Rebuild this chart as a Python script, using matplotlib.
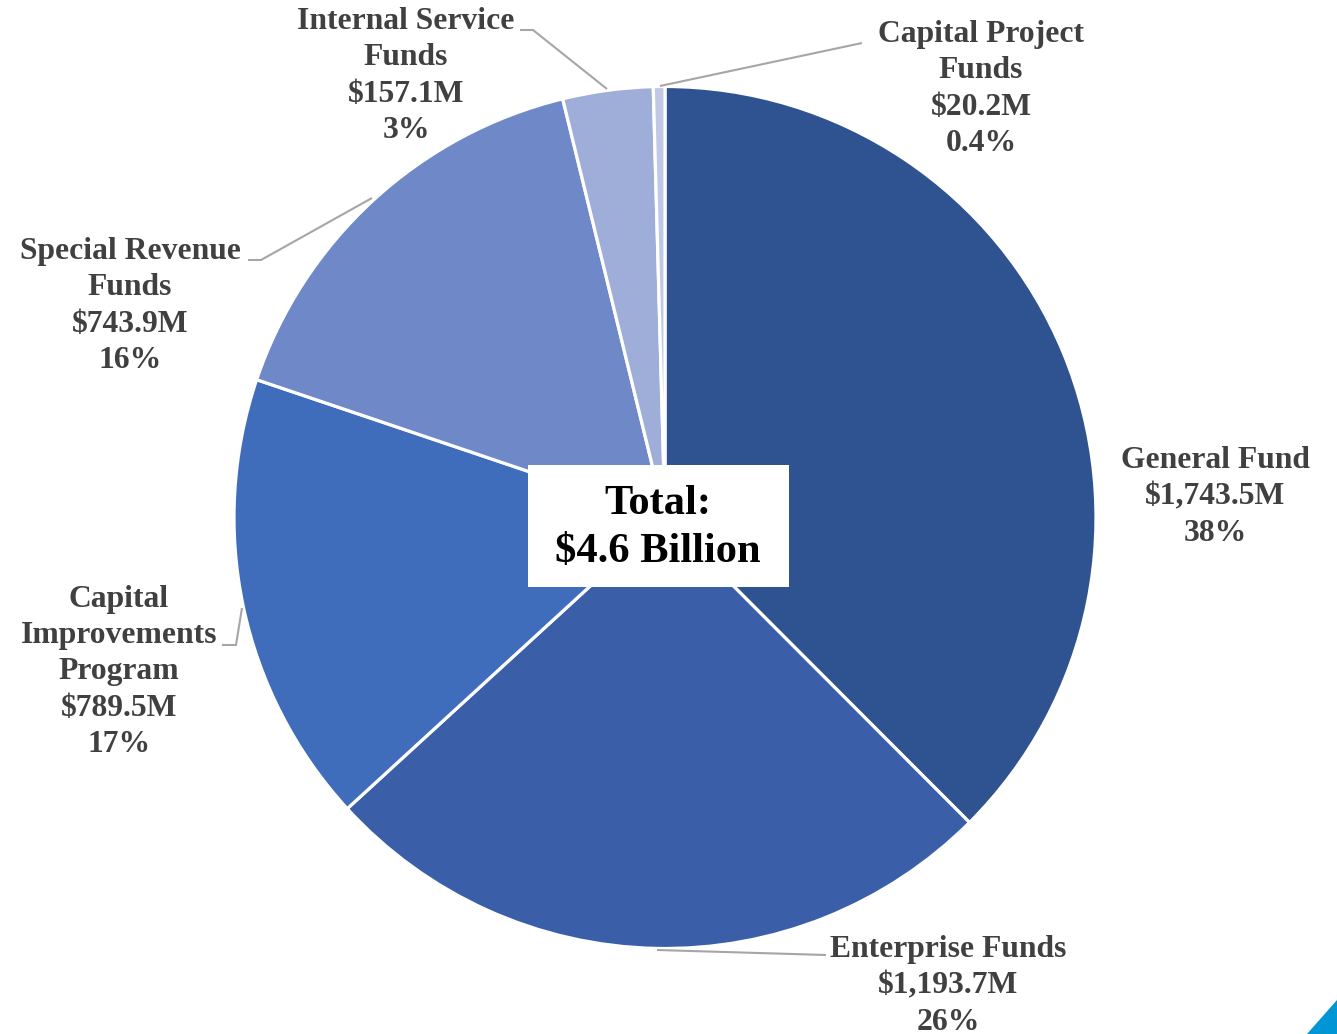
import matplotlib
matplotlib.use("Agg")
import matplotlib.pyplot as plt
from matplotlib.patches import Polygon, Rectangle

categories = ["General Fund", "Enterprise Funds", "Capital\nImprovements\nProgram",
              "Special Revenue\nFunds", "Internal Service\nFunds", "Capital Project\nFunds"]
values = [1743.5, 1193.7, 789.5, 743.9, 157.1, 20.2]
value_labels = ["$1,743.5M", "$1,193.7M", "$789.5M", "$743.9M", "$157.1M", "$20.2M"]
pct_labels = ["38%", "26%", "17%", "16%", "3%", "0.4%"]
colors = ["#2F5290", "#3A5FA8", "#3F6DBB", "#6E88C8", "#9FAED8", "#BFC9E6"]

W, H = 1337, 1034
fig = plt.figure(figsize=(W / 100, H / 100), dpi=100)
ax = fig.add_axes([0, 0, 1, 1])

cx, cy, r = 665, H - 517.5, 431
ax.pie(values, colors=colors, startangle=90, counterclock=False,
       center=(cx, cy), radius=r, frame=True,
       wedgeprops=dict(edgecolor="white", linewidth=2.3))
ax.set_xlim(0, W)
ax.set_ylim(0, H)
ax.set_aspect("equal")
ax.axis("off")

tc = "#404040"
fs = 22.8
font = dict(family="Liberation Serif", fontweight="bold", fontsize=fs, color=tc,
            ha="center", va="center", linespacing=1.33)

# label block centers (pixel coords)
label_pos = [(1215, 497), (948, 986), (119, 672), (130, 306), (406, 76), (981, 89)]
for cat, v, p, (x, y) in zip(categories, value_labels, pct_labels, label_pos):
    ax.text(x, H - y, f"{cat}\n{v}\n{p}", **font)

lc = "#A6A6A6"
leaders = [
    [(520, 30), (533, 30), (607, 89)],
    [(862, 43), (660, 86)],
    [(248, 260), (261, 260), (372, 198)],
    [(222, 645), (236, 645), (242, 608)],
    [(826, 955), (657, 950)],
]
for pts in leaders:
    xs = [p[0] for p in pts]
    ys = [H - p[1] for p in pts]
    ax.plot(xs, ys, color=lc, lw=1.5, solid_capstyle="butt")

ax.add_patch(Rectangle((528, H - 587), 261, 122, facecolor="white",
                       edgecolor="none", zorder=5))
ax.text(658, H - 528, "Total:\n$4.6 Billion", family="Liberation Serif",
        fontweight="bold", fontsize=30.6, color="black", ha="center", va="center",
        linespacing=1.36, zorder=6)

tri = Polygon([(1.0, 0.0), (1.0, 34 / H), (1 - 30 / W, 0.0)], closed=True,
              transform=fig.transFigure, facecolor="#0096D6", edgecolor="none")
fig.patches.append(tri)

fig.savefig("out.png", dpi=100, facecolor="white")
